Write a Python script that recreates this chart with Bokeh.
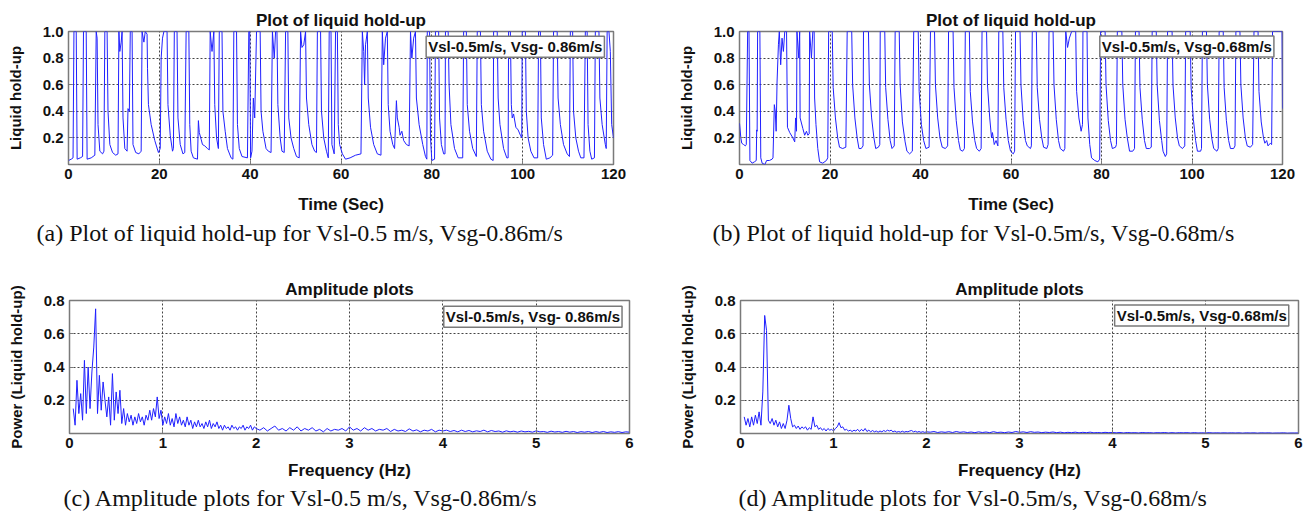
from bokeh.plotting import figure
from bokeh.layouts import row, column
from bokeh.models import Range1d, FixedTicker, Label, Title, PrintfTickFormatter
from bokeh.embed import file_html
from bokeh.resources import INLINE
import numpy as np

# ---------------- data ----------------
# (a) liquid hold-up vs time, Vsl-0.5 m/s, Vsg-0.86 m/s  (time s, hold-up)
A_POINTS = [
    (0.0, 0.03), (0.6, 0.04), (1.0, 0.05), (1.2, 1.0), (1.7, 1.0), (1.9, 0.04), (2.6, 0.05), (3.1, 0.06),
    (3.3, 1.0), (3.9, 1.0), (4.1, 0.04), (5.0, 0.05), (5.8, 0.07), (6.1, 1.0), (6.3, 0.95), (6.5, 0.3),
    (6.9, 0.1), (7.5, 0.08), (7.8, 0.1), (8.0, 1.0), (8.5, 1.0), (8.7, 0.4), (9.1, 0.15), (9.7, 0.09),
    (10.4, 0.07), (10.9, 0.08), (11.1, 1.0), (11.3, 0.85), (11.6, 0.92), (11.8, 1.0), (12.0, 0.35),
    (12.4, 0.12), (12.9, 0.1), (13.1, 0.42), (13.4, 0.4), (13.6, 1.0), (14.0, 1.0), (14.2, 0.15),
    (14.8, 0.09), (15.5, 0.08), (16.0, 0.1), (16.2, 1.0), (16.6, 0.92), (16.9, 1.0), (17.3, 0.98),
    (17.4, 0.72), (17.6, 0.45), (18.2, 0.3), (19.0, 0.18), (19.8, 0.09), (20.2, 0.12), (20.4, 0.8),
    (20.7, 0.95), (21.0, 1.0), (21.7, 1.0), (21.9, 0.45), (22.4, 0.22), (22.9, 0.1), (23.1, 0.12),
    (23.3, 1.0), (23.9, 1.0), (24.1, 0.35), (24.6, 0.15), (25.2, 0.08), (25.6, 0.09), (25.9, 1.0),
    (26.5, 1.0), (26.7, 0.3), (27.0, 0.1), (27.5, 0.05), (28.4, 0.04), (28.6, 0.33), (28.8, 0.24),
    (29.2, 0.19), (29.5, 0.15), (30.0, 0.14), (30.6, 0.12), (31.0, 0.11), (31.2, 1.0), (31.6, 0.85),
    (32.0, 1.0), (32.2, 0.45), (32.6, 0.2), (33.0, 0.12), (33.2, 1.0), (33.8, 1.0), (34.0, 0.4),
    (34.5, 0.25), (35.0, 0.12), (35.8, 0.05), (36.2, 0.04), (36.4, 1.0), (37.0, 1.0), (37.2, 0.3),
    (37.6, 0.12), (38.2, 0.06), (39.4, 0.05), (39.7, 1.0), (39.9, 1.0), (40.1, 0.05), (40.4, 0.1),
    (40.7, 0.5), (41.0, 0.35), (41.4, 1.0), (42.2, 1.0), (42.4, 0.4), (42.8, 0.25), (43.5, 0.12),
    (44.0, 0.1), (44.6, 0.09), (44.9, 1.0), (45.3, 0.8), (45.6, 1.0), (45.9, 1.0), (46.1, 0.45),
    (46.6, 0.2), (47.0, 0.1), (47.5, 0.09), (47.8, 1.0), (48.3, 1.0), (48.5, 0.35), (49.0, 0.2),
    (49.6, 0.12), (50.2, 0.06), (50.8, 0.05), (51.1, 1.0), (51.4, 0.88), (51.8, 0.9), (52.2, 1.0),
    (52.4, 0.5), (52.9, 0.3), (53.6, 0.15), (54.2, 0.1), (54.6, 0.09), (54.8, 1.0), (55.5, 1.0),
    (55.7, 0.4), (56.2, 0.2), (56.8, 0.1), (57.2, 0.05), (57.4, 1.0), (57.8, 1.0), (58.0, 0.15),
    (58.5, 0.08), (58.8, 1.0), (59.2, 1.0), (59.4, 0.3), (59.7, 0.15), (60.3, 0.08), (61.0, 0.04),
    (62.0, 0.05), (63.2, 0.07), (64.4, 0.08), (64.7, 1.0), (65.0, 0.85), (65.2, 0.6), (65.4, 0.9),
    (65.8, 1.0), (66.0, 0.5), (66.5, 0.28), (67.2, 0.15), (68.0, 0.08), (68.8, 0.07), (69.1, 1.0),
    (69.4, 0.75), (69.8, 0.95), (70.2, 1.0), (70.4, 0.45), (70.8, 0.25), (71.4, 0.15), (71.8, 0.12),
    (72.2, 0.48), (72.4, 0.35), (72.8, 0.28), (73.0, 0.22), (73.4, 0.25), (73.8, 0.18), (74.4, 0.15),
    (75.0, 0.14), (75.3, 1.0), (75.6, 0.8), (76.0, 0.95), (76.4, 1.0), (76.6, 0.5), (77.2, 0.3),
    (78.0, 0.15), (78.6, 0.06), (78.9, 0.04), (79.0, 1.0), (79.5, 1.0), (79.7, 0.2), (80.0, 0.03),
    (80.6, 0.04), (80.8, 1.0), (81.5, 1.0), (81.7, 0.35), (82.1, 0.15), (82.6, 0.08), (82.9, 0.08),
    (83.0, 1.0), (83.6, 1.0), (83.8, 0.6), (84.2, 0.3), (85.0, 0.12), (85.8, 0.05), (86.8, 0.05),
    (87.0, 1.0), (87.6, 1.0), (87.8, 0.45), (88.3, 0.25), (89.0, 0.12), (89.8, 0.06), (90.0, 1.0),
    (90.7, 1.0), (90.9, 0.45), (91.4, 0.25), (92.2, 0.1), (93.0, 0.04), (93.5, 0.03), (93.6, 1.0),
    (94.4, 1.0), (94.6, 0.5), (95.0, 0.3), (95.8, 0.12), (96.5, 0.05), (96.8, 0.05), (96.9, 1.0),
    (97.3, 1.0), (97.5, 0.45), (97.7, 0.35), (98.0, 0.38), (98.5, 0.28), (99.0, 0.26), (99.5, 0.22),
    (99.8, 0.2), (99.9, 1.0), (100.6, 1.0), (100.8, 0.4), (101.2, 0.2), (101.8, 0.1), (102.5, 0.05),
    (103.3, 0.05), (103.5, 1.0), (103.9, 1.0), (104.1, 0.35), (104.6, 0.15), (105.2, 0.04),
    (106.0, 0.05), (106.6, 0.07), (106.8, 1.0), (107.6, 1.0), (107.8, 0.5), (108.3, 0.3),
    (109.0, 0.15), (109.8, 0.08), (110.3, 0.06), (110.5, 1.0), (111.0, 1.0), (111.2, 0.4),
    (111.7, 0.2), (112.3, 0.1), (112.8, 0.05), (113.5, 0.05), (113.8, 1.0), (114.2, 1.0),
    (114.4, 0.3), (114.8, 0.1), (115.2, 0.04), (115.8, 0.05), (116.0, 1.0), (116.8, 1.0),
    (117.0, 0.5), (117.5, 0.3), (118.2, 0.15), (118.4, 0.12), (118.6, 1.0), (119.0, 1.0),
    (119.3, 0.85), (119.6, 0.3), (120.0, 0.2),
]

# (b) liquid hold-up vs time, Vsl-0.5 m/s, Vsg-0.68 m/s
B_POINTS = [
    (0.0, 0.31), (0.3, 0.2), (0.5, 0.16), (0.9, 0.15), (1.3, 0.14), (1.5, 0.15), (1.8, 1.0), (2.1, 1.0),
    (2.3, 0.03), (2.8, 0.01), (3.3, 0.02), (3.7, 0.03), (3.8, 0.26), (3.9, 0.25), (4.0, 1.0), (4.5, 1.0),
    (4.7, 0.05), (5.0, 0.01), (5.6, 0.0), (6.0, 0.03), (6.6, 0.03), (7.2, 0.04), (7.4, 0.05), (7.7, 0.45),
    (7.9, 0.4), (8.1, 0.25), (8.3, 0.62), (8.6, 0.9), (8.8, 1.0), (9.1, 0.75), (9.4, 0.95), (9.7, 0.85),
    (10.0, 1.0), (10.4, 1.0), (10.6, 0.28), (11.1, 0.24), (11.8, 0.2), (12.2, 0.17), (12.4, 0.35),
    (12.6, 0.25), (12.7, 1.0), (13.1, 0.8), (13.3, 1.0), (13.4, 0.35), (14.0, 0.27), (14.4, 0.22),
    (14.8, 0.25), (15.1, 0.22), (15.4, 0.23), (15.5, 1.0), (15.9, 0.8), (16.2, 1.0), (16.5, 1.0),
    (16.6, 0.5), (16.9, 0.3), (17.3, 0.12), (17.7, 0.02), (18.4, 0.01), (19.2, 0.03), (19.5, 0.05),
    (19.7, 1.0), (20.5, 1.0), (20.7, 0.58), (21.2, 0.35), (21.7, 0.2), (22.1, 0.13), (22.8, 0.12),
    (23.5, 0.13), (23.8, 1.0), (24.8, 1.0), (25.0, 0.6), (25.5, 0.35), (26.0, 0.2), (26.4, 0.12),
    (26.9, 0.12), (27.3, 0.14), (27.4, 1.0), (28.5, 1.0), (28.7, 0.6), (29.2, 0.35), (29.7, 0.2),
    (30.1, 0.12), (30.7, 0.13), (31.0, 0.15), (31.1, 1.0), (32.1, 1.0), (32.3, 0.58), (32.8, 0.34),
    (33.3, 0.18), (33.7, 0.12), (34.2, 0.14), (34.4, 1.0), (35.3, 1.0), (35.5, 0.6), (36.0, 0.32),
    (36.6, 0.17), (37.0, 0.1), (37.6, 0.08), (38.2, 0.1), (38.5, 1.0), (39.5, 1.0), (39.7, 0.55),
    (40.2, 0.3), (40.7, 0.18), (41.2, 0.12), (41.9, 0.13), (42.2, 1.0), (43.1, 1.0), (43.3, 0.6),
    (43.8, 0.35), (44.3, 0.2), (44.8, 0.13), (45.5, 0.12), (46.0, 0.14), (46.2, 1.0), (47.2, 1.0),
    (47.4, 0.58), (47.9, 0.33), (48.4, 0.18), (48.8, 0.11), (49.3, 0.1), (49.7, 0.12), (49.9, 1.0),
    (50.8, 1.0), (51.0, 0.55), (51.5, 0.32), (52.0, 0.18), (52.4, 0.12), (53.0, 0.1), (53.4, 0.12),
    (53.6, 1.0), (54.6, 1.0), (54.8, 0.6), (55.3, 0.35), (55.7, 0.2), (55.9, 0.24), (56.3, 0.15),
    (56.7, 0.18), (57.1, 0.14), (57.3, 1.0), (58.2, 1.0), (58.4, 0.58), (58.9, 0.34), (59.4, 0.18),
    (59.9, 0.1), (60.5, 0.08), (60.8, 0.1), (61.0, 1.0), (62.0, 1.0), (62.2, 0.6), (62.7, 0.33),
    (63.2, 0.18), (63.6, 0.14), (64.3, 0.12), (64.5, 0.14), (64.7, 1.0), (65.6, 1.0), (65.8, 0.58),
    (66.3, 0.34), (66.8, 0.2), (67.2, 0.13), (67.9, 0.12), (68.2, 0.15), (68.4, 1.0), (69.3, 1.0),
    (69.5, 0.6), (70.0, 0.34), (70.5, 0.18), (70.9, 0.12), (71.6, 0.1), (71.9, 0.12), (72.1, 1.0),
    (72.5, 0.88), (72.9, 0.95), (73.4, 1.0), (74.3, 1.0), (74.5, 0.55), (75.0, 0.35), (75.5, 0.25),
    (75.8, 0.3), (75.9, 1.0), (76.8, 1.0), (77.0, 0.35), (77.4, 0.15), (77.8, 0.05), (78.5, 0.03),
    (79.2, 0.02), (79.6, 0.04), (79.8, 1.0), (80.8, 1.0), (81.0, 0.6), (81.5, 0.33), (82.0, 0.18),
    (82.4, 0.12), (83.1, 0.13), (83.3, 0.15), (83.5, 1.0), (84.5, 1.0), (84.7, 0.6), (85.2, 0.34),
    (85.7, 0.2), (86.2, 0.1), (86.9, 0.1), (87.3, 0.12), (87.5, 1.0), (88.3, 1.0), (88.5, 0.58),
    (89.0, 0.34), (89.5, 0.18), (89.9, 0.12), (90.6, 0.12), (91.0, 0.13), (91.2, 1.0), (92.1, 1.0),
    (92.3, 0.6), (92.8, 0.33), (93.3, 0.18), (93.6, 0.1), (94.1, 0.06), (94.4, 0.08), (94.6, 1.0),
    (95.6, 1.0), (95.8, 0.6), (96.3, 0.35), (96.8, 0.2), (97.2, 0.14), (97.9, 0.12), (98.4, 0.14),
    (98.6, 1.0), (99.6, 1.0), (99.8, 0.58), (100.3, 0.34), (100.8, 0.18), (101.2, 0.1), (101.9, 0.1),
    (102.1, 0.12), (102.3, 1.0), (103.2, 1.0), (103.4, 0.6), (103.9, 0.34), (104.4, 0.19),
    (104.8, 0.12), (105.5, 0.1), (105.8, 0.12), (106.0, 1.0), (106.9, 1.0), (107.1, 0.58),
    (107.6, 0.33), (108.1, 0.18), (108.5, 0.12), (109.2, 0.12), (109.5, 0.14), (109.7, 1.0),
    (110.6, 1.0), (110.8, 0.6), (111.3, 0.35), (111.8, 0.2), (112.2, 0.14), (112.9, 0.13),
    (113.4, 0.15), (113.7, 1.0), (114.6, 1.0), (114.8, 0.55), (115.3, 0.32), (115.8, 0.2),
    (116.1, 0.16), (116.5, 0.18), (116.8, 0.14), (117.3, 0.16), (117.6, 0.15), (117.8, 1.0),
    (119.0, 1.0), (119.9, 1.0), (120.0, 0.42),
]

# (c) amplitude spectrum, Vsl-0.5 m/s, Vsg-0.86 m/s
C_LOW_START, C_LOW_STEP = 0.04, 0.02      # bins 0.04 .. 2.00 Hz
C_LOW_POWER = [
    0.15, 0.05, 0.32, 0.12, 0.24, 0.08, 0.44, 0.12, 0.40, 0.15, 0.37, 0.52, 0.75, 0.12, 0.35, 0.14,
    0.31, 0.20, 0.10, 0.22, 0.05, 0.36, 0.08, 0.25, 0.12, 0.26, 0.06, 0.15, 0.05, 0.12, 0.07, 0.11,
    0.05, 0.10, 0.06, 0.12, 0.07, 0.10, 0.05, 0.11, 0.08, 0.14, 0.08, 0.15, 0.10, 0.22, 0.09, 0.14,
    0.05, 0.10, 0.06, 0.12, 0.05, 0.09, 0.04, 0.12, 0.06, 0.10, 0.05, 0.08, 0.04, 0.10, 0.05, 0.08,
    0.03, 0.07, 0.04, 0.08, 0.04, 0.06, 0.03, 0.07, 0.04, 0.08, 0.03, 0.06, 0.04, 0.07, 0.03, 0.05,
    0.02, 0.05, 0.03, 0.04, 0.02, 0.05, 0.03, 0.04, 0.02, 0.04, 0.03, 0.05, 0.02, 0.04, 0.03, 0.05,
    0.02, 0.04, 0.03,
]
C_HIGH_START, C_HIGH_STEP = 2.04, 0.04    # bins 2.04 .. 6.00 Hz
C_HIGH_POWER = [
    0.020, 0.035, 0.015, 0.030, 0.045, 0.020, 0.030, 0.015, 0.035, 0.020,
    0.040, 0.015, 0.030, 0.020, 0.035, 0.015, 0.025, 0.010, 0.030, 0.015,
    0.025, 0.020, 0.030, 0.015, 0.040, 0.020, 0.030, 0.015, 0.035, 0.020,
    0.030, 0.015, 0.025, 0.020, 0.030, 0.012, 0.025, 0.015, 0.020, 0.012,
    0.028, 0.015, 0.022, 0.010, 0.020, 0.015, 0.025, 0.010, 0.020, 0.015,
    0.020, 0.012, 0.018, 0.010, 0.020, 0.012, 0.018, 0.010, 0.016, 0.012,
    0.020, 0.010, 0.018, 0.012, 0.015, 0.008, 0.016, 0.010, 0.014, 0.008,
    0.015, 0.010, 0.013, 0.008, 0.016, 0.010, 0.012, 0.007, 0.014, 0.009,
    0.012, 0.007, 0.013, 0.008, 0.012, 0.006, 0.011, 0.008, 0.012, 0.006,
    0.011, 0.007, 0.012, 0.006, 0.010, 0.007, 0.011, 0.006, 0.010, 0.008,
]

# (d) amplitude spectrum, Vsl-0.5 m/s, Vsg-0.68 m/s
D_LOW_START, D_LOW_STEP = 0.04, 0.02
D_LOW_POWER = [
    0.10, 0.05, 0.09, 0.04, 0.10, 0.05, 0.11, 0.06, 0.13, 0.05, 0.25, 0.71, 0.62, 0.08, 0.06, 0.09,
    0.05, 0.08, 0.04, 0.07, 0.03, 0.06, 0.03, 0.08, 0.17, 0.09, 0.04, 0.05, 0.03, 0.045, 0.025, 0.04,
    0.03, 0.04, 0.02, 0.035, 0.025, 0.10, 0.04, 0.05, 0.025, 0.035, 0.02, 0.03, 0.015, 0.03, 0.02,
    0.025, 0.015, 0.03, 0.04, 0.065, 0.035, 0.04, 0.02, 0.025, 0.015, 0.02, 0.012, 0.02, 0.015, 0.025,
    0.012, 0.025, 0.015, 0.03, 0.012, 0.02, 0.01, 0.018, 0.01, 0.015, 0.008, 0.015, 0.01, 0.018,
    0.012, 0.02, 0.015, 0.02, 0.01, 0.015, 0.008, 0.012, 0.008, 0.014, 0.008, 0.012, 0.01, 0.015,
    0.018, 0.01, 0.014, 0.008, 0.012, 0.007, 0.011, 0.007, 0.01,
]
D_HIGH_START, D_HIGH_STEP = 2.04, 0.04
D_HIGH_POWER = [
    0.008, 0.012, 0.006, 0.010, 0.007, 0.011, 0.006, 0.012, 0.007, 0.010,
    0.006, 0.009, 0.005, 0.010, 0.006, 0.009, 0.005, 0.011, 0.006, 0.008,
    0.005, 0.009, 0.006, 0.012, 0.007, 0.010, 0.006, 0.011, 0.007, 0.009,
    0.005, 0.008, 0.006, 0.009, 0.005, 0.008, 0.004, 0.007, 0.005, 0.008,
    0.004, 0.007, 0.005, 0.008, 0.004, 0.006, 0.004, 0.007, 0.005, 0.006,
    0.004, 0.006, 0.003, 0.006, 0.004, 0.005, 0.003, 0.006, 0.004, 0.005,
    0.003, 0.005, 0.004, 0.006, 0.003, 0.005, 0.003, 0.005, 0.004, 0.005,
    0.003, 0.005, 0.003, 0.004, 0.003, 0.005, 0.003, 0.004, 0.003, 0.004,
    0.003, 0.004, 0.003, 0.004, 0.002, 0.004, 0.003, 0.004, 0.002, 0.004,
    0.003, 0.004, 0.002, 0.003, 0.003, 0.004, 0.002, 0.003, 0.003, 0.003,
]

TIME_TICKS = [0, 20, 40, 60, 80, 100, 120]
HOLDUP_TICKS = [0.2, 0.4, 0.6, 0.8, 1.0]
FREQ_TICKS = [0, 1, 2, 3, 4, 5, 6]
POWER_TICKS = [0.2, 0.4, 0.6, 0.8]

SANS = "Liberation Sans"
SERIF = "Liberation Serif"
LINE = "#2020ff"


def bins(start, step, vals):
    return list(np.round(start + step * np.arange(len(vals)), 3))


def panel(width, height, borders, xr, yr, xticks, yticks, title, xlabel, ylabel,
          caption, cap_offset, legend, leg_xy, xlab_standoff, cap_standoff):
    left, right, top, bottom = borders
    p = figure(width=width, height=height, x_range=Range1d(*xr), y_range=Range1d(*yr),
               output_backend="svg", toolbar_location=None,
               min_border_left=left, min_border_right=right,
               min_border_top=top, min_border_bottom=bottom)
    p.background_fill_color = "white"
    p.border_fill_color = "white"
    p.outline_line_color = "#7a7a7a"
    p.outline_line_width = 1.5
    p.title.text = title
    p.title.align = "center"
    p.title.text_font = SANS
    p.title.text_font_size = "17px"
    p.title.text_font_style = "bold"
    p.title.text_color = "#111111"
    p.title.standoff = 4
    for ax, ticks, lab in ((p.xaxis[0], xticks, xlabel), (p.yaxis[0], yticks, ylabel)):
        ax.ticker = FixedTicker(ticks=ticks)
        ax.axis_label = lab
        ax.axis_label_text_font = SANS
        ax.axis_label_text_font_style = "bold"
        ax.axis_label_text_color = "#111111"
        ax.major_label_text_font = SANS
        ax.major_label_text_font_size = "15px"
        ax.major_label_text_font_style = "bold"
        ax.major_label_text_color = "#111111"
        ax.axis_line_color = None
        ax.major_tick_in = 4
        ax.major_tick_out = 0
        ax.major_tick_line_color = "#7a7a7a"
        ax.minor_tick_line_color = None
    p.xaxis[0].axis_label_text_font_size = "17px"
    p.yaxis[0].axis_label_text_font_size = "15px"
    p.yaxis[0].formatter = PrintfTickFormatter(format="%.1f")
    p.xaxis[0].major_label_standoff = 4
    p.xaxis[0].axis_label_standoff = xlab_standoff
    p.yaxis[0].major_label_standoff = 5
    p.yaxis[0].axis_label_standoff = 16
    p.xgrid.ticker = FixedTicker(ticks=xticks)
    p.ygrid.ticker = FixedTicker(ticks=yticks)
    for g in (p.xgrid[0], p.ygrid[0]):
        g.grid_line_color = "#444444"
        g.grid_line_dash = "2 2"
        g.grid_line_width = 1
    cap = Title(text=caption, align="left", offset=cap_offset, text_font=SERIF,
                text_font_size="24px", text_font_style="normal", text_color="#111111",
                standoff=cap_standoff)
    p.add_layout(cap, "below")
    lab = Label(x=leg_xy[0], y=leg_xy[1], text=legend, text_align="right",
                text_baseline="middle", text_font=SANS, text_font_size="15px",
                text_font_style="bold", text_color="#111111",
                border_line_color="#7a7a7a", border_line_width=1.5,
                background_fill_color="white", padding=2)
    p.add_layout(lab)
    return p


# ----- (a)
at, ay = zip(*A_POINTS)
pa = panel(655, 265, (68, 42, 31, 101), (0, 120), (0, 1), TIME_TICKS, HOLDUP_TICKS,
           "Plot of liquid hold-up", "Time (Sec)", "Liquid hold-up",
           "(a) Plot of liquid hold-up for Vsl-0.5 m/s, Vsg-0.86m/s", -32,
           "Vsl-0.5m/s, Vsg- 0.86m/s", (118.0, 0.885), 13, 3)
pa.line(list(at), list(ay), line_color=LINE, line_width=1)

# ----- (b)
bt, by = zip(*B_POINTS)
pb = panel(656, 265, (84, 29, 31, 101), (0, 120), (0, 1), TIME_TICKS, HOLDUP_TICKS,
           "Plot of liquid hold-up", "Time (Sec)", "Liquid hold-up",
           "(b) Plot of liquid hold-up for Vsl-0.5m/s, Vsg-0.68m/s", -27,
           "Vsl-0.5m/s, Vsg-0.68m/s", (118.1, 0.887), 13, 3)
pb.line(list(bt), list(by), line_color=LINE, line_width=1)

# ----- (c)
cf = bins(C_LOW_START, C_LOW_STEP, C_LOW_POWER) + bins(C_HIGH_START, C_HIGH_STEP, C_HIGH_POWER)
cp = C_LOW_POWER + C_HIGH_POWER
pc = panel(655, 253, (69, 26, 35, 85), (0, 6), (0, 0.8), FREQ_TICKS, POWER_TICKS,
           "Amplitude plots", "Frequency (Hz)", "Power (Liquid hold-up)",
           "(c) Amplitude plots for Vsl-0.5 m/s, Vsg-0.86m/s", -6,
           "Vsl-0.5m/s, Vsg- 0.86m/s", (5.92, 0.703), 10, 0)
pc.line(cf, cp, line_color=LINE, line_width=1)

# ----- (d)
df_ = bins(D_LOW_START, D_LOW_STEP, D_LOW_POWER) + bins(D_HIGH_START, D_HIGH_STEP, D_HIGH_POWER)
dp = D_LOW_POWER + D_HIGH_POWER
pd_ = panel(656, 253, (85, 13, 35, 85), (0, 6), (0, 0.8), FREQ_TICKS, POWER_TICKS,
            "Amplitude plots", "Frequency (Hz)", "Power (Liquid hold-up)",
            "(d) Amplitude plots for Vsl-0.5m/s, Vsg-0.68m/s", -2,
            "Vsl-0.5m/s, Vsg-0.68m/s", (5.895, 0.71), 10, 0)
pd_.line(df_, dp, line_color=LINE, line_width=1)

layout = column(row(pa, pb), row(pc, pd_))
open("out.html", "w").write(file_html(layout, INLINE))
